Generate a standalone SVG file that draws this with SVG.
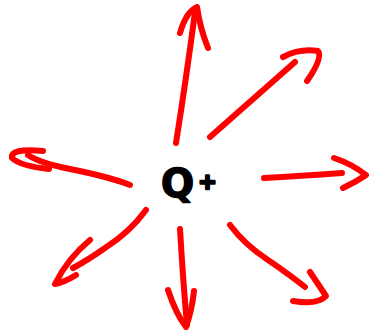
<svg xmlns="http://www.w3.org/2000/svg" width="370" height="334" viewBox="0 0 370 334">
<style>
.a{fill:none;stroke:#ff0000;stroke-width:6;stroke-linecap:round;stroke-linejoin:round}
.t{font-family:"DejaVu Sans",sans-serif;font-weight:bold;fill:#000;stroke:#000;stroke-width:1.5;stroke-linejoin:round}
</style>
<rect width="370" height="334" fill="#fff"/>
<g id="center">
<text class="t" x="161" y="197" font-size="39">Q<tspan font-size="22" dx="4" dy="-8" stroke-width="2.5">+</tspan></text>
</g>
<g id="connectors">
<g id="arrow-up"><path class="a" d="M176,143 Q186,80 195,12"/><path class="a" d="M180,33 Q186,12 197,7 Q200,28 208,48"/></g>
<g id="arrow-upright"><path class="a" d="M210,137 L295,62"/><path class="a" d="M283,57 Q300,48 318,51 Q323,58 307,81"/></g>
<g id="arrow-right"><path class="a" d="M264,178 Q300,176 342,173"/><path class="a" d="M334,158 Q352,164 366,175 Q356,182 343,188"/></g>
<g id="arrow-downright"><path class="a" d="M230,225 Q245,245 268,260 Q290,275 305,287"/><path class="a" d="M310,272 L326,296 Q318,305 293,301"/></g>
<g id="arrow-down"><path class="a" d="M180,229 Q183,280 187,325"/><path class="a" d="M168,290 Q176,314 186,327 Q192,310 194,291"/></g>
<g id="arrow-downleft"><path class="a" d="M146,210 Q130,232 105,248 Q88,260 73,268"/><path class="a" d="M90,240 Q68,258 55,284 Q65,282 76,275"/></g>
<g id="arrow-left"><path class="a" d="M130,185 Q110,177 70,169 Q40,163 28,155"/><path class="a" d="M49,169 Q20,166 12,158 Q10,148 43,151"/></g>
</g>
</svg>
